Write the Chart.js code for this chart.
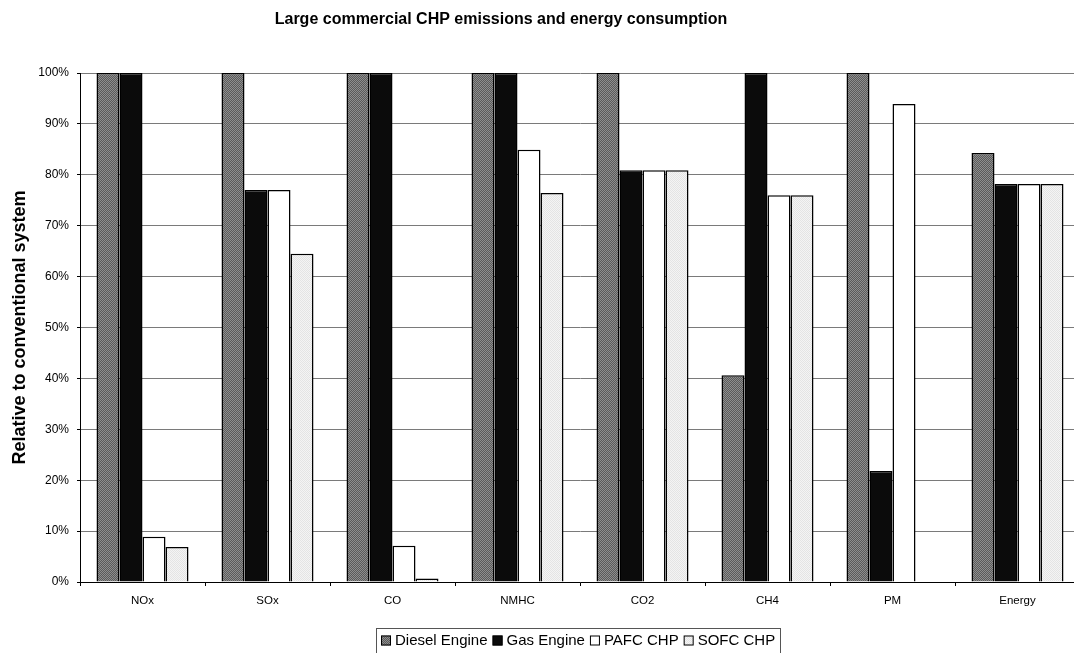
<!DOCTYPE html>
<html>
<head>
<meta charset="utf-8">
<script src="https://cdn.jsdelivr.net/npm/chart.js@4.4.1/dist/chart.umd.min.js"></script>
<style>
  html, body { margin: 0; padding: 0; background: #fff; overflow: hidden; }
  #wrap { position: relative; width: 1082px; height: 653px; }
</style>
</head>
<body>
<div id="wrap"><canvas id="chart" width="1082" height="653"></canvas></div>
<script>
// Emissions and energy use relative to the conventional system (%)
const categories = ['NOx', 'SOx', 'CO', 'NMHC', 'CO2', 'CH4', 'PM', 'Energy'];
const dieselEngine = [100, 100, 100, 100, 100, 40.6, 100, 84.3];
const gasEngine    = [100, 77.0, 100, 100, 80.9, 100, 21.8, 78.2];
const pafcChp      = [8.9, 77.0, 7.1, 84.9, 80.9, 76.0, 93.9, 78.2];
const sofcChp      = [6.9, 64.5, 0.7, 76.4, 80.9, 76.0, 0, 78.2];
const seriesNames  = ['Diesel Engine', 'Gas Engine', 'PAFC CHP', 'SOFC CHP'];
const yTickStep = 10;
const yMax = 100;

const FONT = '"Liberation Sans", Arial, sans-serif';

// Fine two-tone fill like a halftone grey
function halftone(c1, c2) {
  const p = document.createElement('canvas');
  p.width = 2; p.height = 2;
  const g = p.getContext('2d');
  g.fillStyle = c1; g.fillRect(0, 0, 2, 2);
  g.fillStyle = c2; g.fillRect(0, 0, 1, 1); g.fillRect(1, 1, 1, 1);
  return g.createPattern(p, 'repeat');
}

const fills = [
  halftone('#5a5a5a', '#8e8e8e'),
  '#0b0b0b',
  '#ffffff',
  halftone('#f4f4f4', '#e4e4e4')
];

const seriesValues = [dieselEngine, gasEngine, pafcChp, sofcChp];

const datasets = seriesNames.map((name, i) => ({
  label: name,
  data: seriesValues[i],
  backgroundColor: fills[i],
  borderColor: '#000',
  borderWidth: 1.5,
  categoryPercentage: 0.736,
  barPercentage: 1.0
}));

// Page title and boxed legend drawn onto the canvas
const decorations = {
  id: 'decorations',
  afterDraw(chart) {
    const ctx = chart.ctx;
    ctx.save();
    ctx.fillStyle = '#000';
    ctx.font = 'bold 16px ' + FONT;
    ctx.textAlign = 'center';
    ctx.textBaseline = 'middle';
    ctx.fillText('Large commercial CHP emissions and energy consumption', 501, 20);

    // legend
    ctx.font = '15px ' + FONT;
    const sw = 10, gapSw = 4, gapItem = 5, padX = 5;
    const widths = seriesNames.map(n => ctx.measureText(n).width);
    let total = padX * 2;
    widths.forEach((w, i) => { total += sw + gapSw + w + (i < widths.length - 1 ? gapItem : 0); });
    const area = chart.chartArea;
    const cx = (area.left + area.right) / 2;
    const boxL = Math.round(cx - total / 2) - 2;
    const boxT = 628, boxH = 25, midY = 640.5;
    ctx.strokeStyle = '#555';
    ctx.lineWidth = 1;
    ctx.strokeRect(boxL + 0.5, boxT + 0.5, Math.round(total), boxH);
    let x = boxL + padX;
    ctx.textAlign = 'left';
    seriesNames.forEach((n, i) => {
      ctx.fillStyle = fills[i];
      ctx.fillRect(x, midY - sw / 2, sw, sw);
      ctx.strokeStyle = '#000';
      ctx.strokeRect(x + 0.5, midY - sw / 2 + 0.5, sw - 1, sw - 1);
      x += sw + gapSw;
      ctx.fillStyle = '#000';
      ctx.fillText(n, x, midY);
      x += widths[i] + gapItem;
    });
    ctx.restore();
  }
};

new Chart(document.getElementById('chart'), {
  type: 'bar',
  data: { labels: categories, datasets },
  options: {
    responsive: false,
    animation: false,
    layout: { padding: { top: 73, right: 2, left: 0, bottom: 0 } },
    plugins: {
      legend: { display: false },
      title: { display: false },
      tooltip: { enabled: false }
    },
    scales: {
      x: {
        offset: true,
        grid: {
          offset: true,
          drawOnChartArea: false,
          drawTicks: true,
          tickLength: 4,
          color: '#000'
        },
        border: { color: '#000', width: 1 },
        ticks: {
          color: '#000',
          font: { family: FONT, size: 11.5 },
          padding: 8,
          maxRotation: 0
        },
        afterFit(s) { s.height = 71; }
      },
      y: {
        min: 0,
        max: yMax,
        ticks: {
          stepSize: yTickStep,
          color: '#000',
          font: { family: FONT, size: 12 },
          padding: 8,
          callback: v => v + '%'
        },
        grid: {
          color: '#7a7a7a',
          lineWidth: 1,
          drawTicks: true,
          tickLength: 3,
          tickColor: '#000'
        },
        border: { color: '#000', width: 1 },
        title: {
          display: true,
          text: 'Relative to conventional system',
          color: '#000',
          font: { family: FONT, size: 18, weight: 'bold' },
          padding: { top: 9, bottom: 0 }
        },
        afterFit(s) { s.width = 80; }
      }
    }
  },
  plugins: [decorations]
});
</script>
</body>
</html>
